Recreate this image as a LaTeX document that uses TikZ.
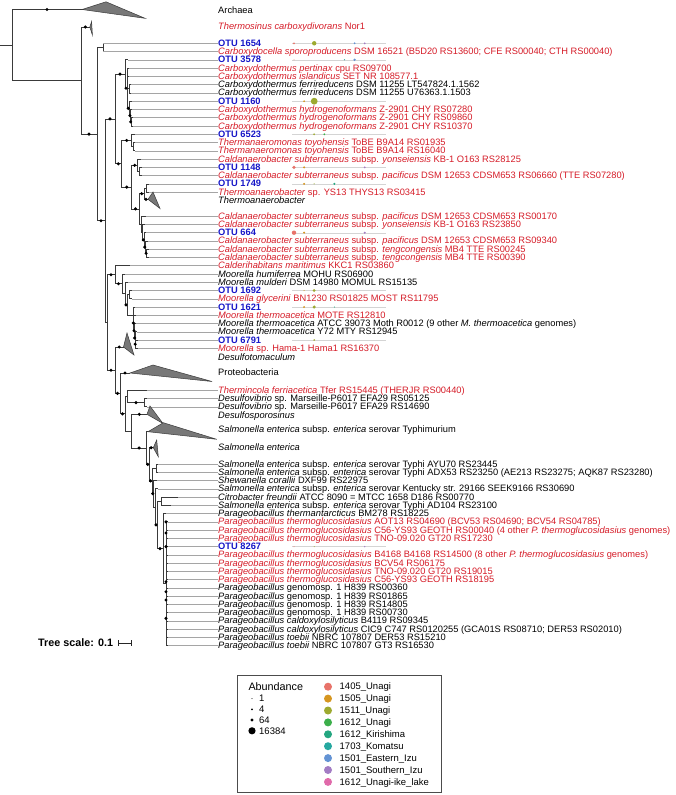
\documentclass[tikz,border=0pt]{standalone}
\usepackage{fontspec}
\setmainfont{Liberation Sans}
\usetikzlibrary{calc}
\definecolor{txtred}{RGB}{214,28,40}
\definecolor{otublue}{RGB}{22,22,200}
\definecolor{edgec}{RGB}{58,58,58}
\definecolor{leafc}{RGB}{165,165,165}
\definecolor{trkc}{RGB}{212,212,212}
\definecolor{trif}{RGB}{120,120,120}
\definecolor{cA}{RGB}{232,115,106}
\definecolor{cB}{RGB}{214,150,32}
\definecolor{cC}{RGB}{157,170,48}
\definecolor{cD}{RGB}{60,175,75}
\definecolor{cE}{RGB}{36,166,128}
\definecolor{cF}{RGB}{38,168,160}
\definecolor{cG}{RGB}{99,147,212}
\definecolor{cH}{RGB}{163,124,196}
\definecolor{cI}{RGB}{224,106,170}
\newcommand{\lf}[3]{\draw[tree] (#1) |- ($(#1 |- #2.west)+(#3,0)$); \draw[leafline] ($(#1 |- #2.west)+(#3,0)$) -- (#2.west);}
\newcommand{\ie}[2]{\draw[tree] (#1) |- (#2);}
\newcommand{\sd}[2]{\fill[black] ($(#1 |- #2)!0.5!(#2)$) circle (1.7pt);}
\newcommand{\trk}[1]{\draw[trkline] ($(#1.west)+(74,0)$) -- ($(#1.west)+(168,0)$);}
\newcommand{\ab}[4]{\fill[#2] ($(#1.west)+(#3,0)$) circle (#4pt);}
\begin{document}
\begin{tikzpicture}[x=1pt,y=-1pt,
  tree/.style={draw=edgec, line width=0.7pt},
  leafline/.style={draw=leafc, line width=0.5pt},
  trkline/.style={draw=trkc, line width=0.4pt},
  tri/.style={fill=trif, draw=edgec, line width=0.5pt},
  lab/.style={anchor=west, inner sep=0pt, text height=6pt, text depth=0pt, font=\fontsize{9.3}{11}\selectfont},
  labk/.style={lab, text=black},
  labr/.style={lab, text=txtred},
  labo/.style={lab, text=otublue, font=\fontsize{9.3}{11}\selectfont\bfseries},
  leg/.style={anchor=west, inner sep=0pt, text height=6.5pt, text depth=0pt, font=\fontsize{9.5}{11}\selectfont}]
\useasboundingbox (0,0) rectangle (675,795);
\fill[white] (0,0) rectangle (675,795);

% ---------------- labels ----------------
\node[labk] (tArch) at (218,10.7) {Archaea};
\node[labr] (tThs) at (218,26.3) {\textit{Thermosinus carboxydivorans} Nor1};
\node[labo] (o1654) at (218,43.3) {OTU 1654};
\node[labr] (lCsp) at (218,51.57) {\textit{Carboxydocella sporoproducens} DSM 16521 (B5D20 RS13600; CFE RS00040; CTH RS00040)};
\node[labo] (o3578) at (218,59.84) {OTU 3578};
\node[labr] (lCpe) at (218,68.11) {\textit{Carboxydothermus pertinax} cpu RS09700};
\node[labr] (lCis) at (218,76.38) {\textit{Carboxydothermus islandicus} SET NR 108577.1};
\node[labk] (lCf1) at (218,84.65) {\textit{Carboxydothermus ferrireducens} DSM 11255 LT547824.1.1562};
\node[labk] (lCf2) at (218,92.92) {\textit{Carboxydothermus ferrireducens} DSM 11255 U76363.1.1503};
\node[labo] (o1160) at (218,101.19) {OTU 1160};
\node[labr] (lCh1) at (218,109.46) {\textit{Carboxydothermus hydrogenoformans} Z-2901 CHY RS07280};
\node[labr] (lCh2) at (218,117.73) {\textit{Carboxydothermus hydrogenoformans} Z-2901 CHY RS09860};
\node[labr] (lCh3) at (218,126.0) {\textit{Carboxydothermus hydrogenoformans} Z-2901 CHY RS10370};
\node[labo] (o6523) at (218,134.27) {OTU 6523};
\node[labr] (lTt1) at (218,142.54) {\textit{Thermanaeromonas toyohensis} ToBE B9A14 RS01935};
\node[labr] (lTt2) at (218,150.81) {\textit{Thermanaeromonas toyohensis} ToBE B9A14 RS16040};
\node[labr] (lCy1) at (218,159.08) {\textit{Caldanaerobacter subterraneus} subsp. \textit{yonseiensis} KB-1 O163 RS28125};
\node[labo] (o1148) at (218,167.35) {OTU 1148};
\node[labr] (lCp1) at (218,175.62) {\textit{Caldanaerobacter subterraneus} subsp. \textit{pacificus} DSM 12653 CDSM653 RS06660 (TTE RS07280)};
\node[labo] (o1749) at (218,183.89) {OTU 1749};
\node[labr] (lTsp) at (218,192.16) {\textit{Thermoanaerobacter} sp. YS13 THYS13 RS03415};
\node[labk] (tTab) at (218,200.9) {\textit{Thermoanaerobacter}};
\node[labr] (lCp2) at (218,216.2) {\textit{Caldanaerobacter subterraneus} subsp. \textit{pacificus} DSM 12653 CDSM653 RS00170};
\node[labr] (lCy2) at (218,224.45) {\textit{Caldanaerobacter subterraneus} subsp. \textit{yonseiensis} KB-1 O163 RS23850};
\node[labo] (o664) at (218,232.7) {OTU 664};
\node[labr] (lCp3) at (218,240.96) {\textit{Caldanaerobacter subterraneus} subsp. \textit{pacificus} DSM 12653 CDSM653 RS09340};
\node[labr] (lCt1) at (218,249.22) {\textit{Caldanaerobacter subterraneus} subsp. \textit{tengcongensis} MB4 TTE RS00245};
\node[labr] (lCt2) at (218,257.48) {\textit{Caldanaerobacter subterraneus} subsp. \textit{tengcongensis} MB4 TTE RS00390};
\node[labr] (lCal) at (218,265.74) {\textit{Calderihabitans maritimus} KKC1 RS03860};
\node[labk] (lMhu) at (218,274.0) {\textit{Moorella humiferrea} MOHU RS06900};
\node[labk] (lMmu) at (218,282.26) {\textit{Moorella mulderi} DSM 14980 MOMUL RS15135};
\node[labo] (o1692) at (218,290.52) {OTU 1692};
\node[labr] (lMgl) at (218,298.78) {\textit{Moorella glycerini} BN1230 RS01825 MOST RS11795};
\node[labo] (o1621) at (218,307.04) {OTU 1621};
\node[labr] (lMt1) at (218,315.3) {\textit{Moorella thermoacetica} MOTE RS12810};
\node[labk] (lMt2) at (218,323.56) {\textit{Moorella thermoacetica} ATCC 39073 Moth R0012 (9 other \textit{M. thermoacetica} genomes)};
\node[labk] (lMt3) at (218,331.82) {\textit{Moorella thermoacetica} Y72 MTY RS12945};
\node[labo] (o6791) at (218,340.08) {OTU 6791};
\node[labr] (lMha) at (218,348.34) {\textit{Moorella} sp. Hama-1 Hama1 RS16370};
\node[labk] (tDtm) at (218,357.3) {\textit{Desulfotomaculum}};
\node[labk] (tPro) at (218,372.7) {Proteobacteria};
\node[labr] (lThf) at (218,390.3) {\textit{Thermincola ferriacetica} Tfer RS15445 (THERJR RS00440)};
\node[labk] (lDv1) at (218,398.5) {\textit{Desulfovibrio} sp. Marseille-P6017 EFA29 RS05125};
\node[labk] (lDv2) at (218,406.8) {\textit{Desulfovibrio} sp. Marseille-P6017 EFA29 RS14690};
\node[labk] (tDsp) at (218,415.0) {\textit{Desulfosporosinus}};
\node[labk] (tSty) at (218,429.3) {\textit{Salmonella enterica} subsp. \textit{enterica} serovar Typhimurium};
\node[labk] (tSen) at (218,447.7) {\textit{Salmonella enterica}};
\node[labk] (lS1) at (218,464.0) {\textit{Salmonella enterica} subsp. \textit{enterica} serovar Typhi AYU70 RS23445};
\node[labk] (lS2) at (218,472.26) {\textit{Salmonella enterica} subsp. \textit{enterica} serovar Typhi ADX53 RS23250 (AE213 RS23275; AQK87 RS23280)};
\node[labk] (lShw) at (218,480.52) {\textit{Shewanella corallii} DXF99 RS22975};
\node[labk] (lS3) at (218,488.78) {\textit{Salmonella enterica} subsp. \textit{enterica} serovar Kentucky str. 29166 SEEK9166 RS30690};
\node[labk] (lCit) at (218,497.04) {\textit{Citrobacter freundii} ATCC 8090 = MTCC 1658 D186 RS00770};
\node[labk] (lS4) at (218,505.3) {\textit{Salmonella enterica} subsp. \textit{enterica} serovar Typhi AD104 RS23100};
\node[labk] (lPth) at (218,513.56) {\textit{Parageobacillus thermantarcticus} BM278 RS18225};
\node[labr] (lPg1) at (218,521.82) {\textit{Parageobacillus thermoglucosidasius} AOT13 RS04690 (BCV53 RS04690; BCV54 RS04785)};
\node[labr] (lPg2) at (218,530.08) {\textit{Parageobacillus thermoglucosidasius} C56-YS93 GEOTH RS00040 (4 other \textit{P. thermoglucosidasius} genomes)};
\node[labr] (lPg3) at (218,538.34) {\textit{Parageobacillus thermoglucosidasius} TNO-09.020 GT20 RS17230};
\node[labo] (o8267) at (218,546.6) {OTU 8267};
\node[labr] (lPg4) at (218,554.86) {\textit{Parageobacillus thermoglucosidasius} B4168 B4168 RS14500 (8 other \textit{P. thermoglucosidasius} genomes)};
\node[labr] (lPg5) at (218,563.12) {\textit{Parageobacillus thermoglucosidasius} BCV54 RS06175};
\node[labr] (lPg6) at (218,571.38) {\textit{Parageobacillus thermoglucosidasius} TNO-09.020 GT20 RS19015};
\node[labr] (lPg7) at (218,579.64) {\textit{Parageobacillus thermoglucosidasius} C56-YS93 GEOTH RS18195};
\node[labk] (lPn1) at (218,587.9) {\textit{Parageobacillus} genomosp. 1 H839 RS00360};
\node[labk] (lPn2) at (218,596.16) {\textit{Parageobacillus} genomosp. 1 H839 RS01865};
\node[labk] (lPn3) at (218,604.42) {\textit{Parageobacillus} genomosp. 1 H839 RS14805};
\node[labk] (lPn4) at (218,612.68) {\textit{Parageobacillus} genomosp. 1 H839 RS00730};
\node[labk] (lPc1) at (218,620.94) {\textit{Parageobacillus caldoxylosilyticus} B4119 RS09345};
\node[labk] (lPc2) at (218,629.2) {\textit{Parageobacillus caldoxylosilyticus} CIC9 C747 RS0120255 (GCA01S RS08710; DER53 RS02010)};
\node[labk] (lPt1) at (218,637.46) {\textit{Parageobacillus toebii} NBRC 107807 DER53 RS15210};
\node[labk] (lPt2) at (218,645.72) {\textit{Parageobacillus toebii} NBRC 107807 GT3 RS16530};

% ---------------- internal nodes ----------------
\coordinate (rs) at (0,45.15);
\coordinate (root) at (12,45.15);
\coordinate (arA) at (82,9.5);   \coordinate (arT) at (106,1.8);  \coordinate (arB) at (145,18.3);
\coordinate (A) at (81,80.3);
\coordinate (thA) at (89.8,27);  \coordinate (thT) at (91.6,21.5); \coordinate (thB) at (92.4,35);
\coordinate (B) at (97,134.05);
\coordinate (C) at (103,47.4);
\coordinate (D) at (105,220.7);
\coordinate (E) at (115,118.93);
\coordinate (F) at (125,74.06);
\coordinate (F2) at (127,88.27);
\coordinate (Fp) at (129,88.79);
\coordinate (F4) at (129.5,108.43);
\coordinate (F5) at (130.3,115.67);
\coordinate (F6) at (131,121.87);
\coordinate (G) at (121.7,163.8);
\coordinate (H) at (131.7,140.48);
\coordinate (H2) at (133,146.68);
\coordinate (I) at (131.7,187.11);
\coordinate (J) at (137.7,165.29);
\coordinate (J2) at (139.5,171.49);
\coordinate (K) at (139.3,208.93);
\coordinate (T) at (144,193.67);
\coordinate (T1) at (146.7,188.03);
\coordinate (taA) at (148,199.3); \coordinate (taT) at (153,192); \coordinate (taB) at (160,208.5);
\coordinate (Cc) at (141.7,224.2);
\coordinate (Cc2) at (142.7,232.19);
\coordinate (Cc3) at (144,239.93);
\coordinate (Cc4) at (145.5,247.16);
\coordinate (Cc5) at (146.7,253.35);
\coordinate (L) at (107,322.5);
\coordinate (M) at (115,274.76);
\coordinate (M2) at (122,283.78);
\coordinate (M3) at (125,293.55);
\coordinate (M4) at (127,304.85);
\coordinate (M5) at (129.5,294.65);
\coordinate (M6) at (133,315.04);
\coordinate (M7) at (133.7,323.04);
\coordinate (M8) at (134.3,330.78);
\coordinate (M9) at (134.9,338.0);
\coordinate (M10) at (135.5,344.21);
\coordinate (N) at (115,370.2);
\coordinate (dtA) at (123.5,347); \coordinate (dtT) at (127,333); \coordinate (dtB) at (134,355);
\coordinate (N2) at (120,393.4);
\coordinate (prA) at (130,373);   \coordinate (prT) at (153,365); \coordinate (prB) at (212,381.5);
\coordinate (N3) at (125,413.8);
\coordinate (P) at (127.7,396.48);
\coordinate (Pd) at (144.3,402.65);
\coordinate (Q) at (131.7,431.15);
\coordinate (dsA) at (147,414.3); \coordinate (dsT) at (150,406); \coordinate (dsB) at (163,423.5);
\coordinate (R) at (146.5,448);
\coordinate (stA) at (148,431.7); \coordinate (stT) at (163.3,422.7); \coordinate (stB) at (216.7,439.3);
\coordinate (R2) at (149,464.3);
\coordinate (seA) at (153.3,447.7); \coordinate (seT) at (156.7,440); \coordinate (seB) at (158.3,456.7);
\coordinate (R3) at (152,480.91);
\coordinate (Ty) at (156,468.13);
\coordinate (R4) at (153.5,493.69);
\coordinate (R5) at (155,506.85);
\coordinate (R6) at (157,524.92);
\coordinate (Ci) at (161,501.17);
\coordinate (PG) at (163,548.67);
\coordinate (PG2) at (166,583.77);

% ---------------- leaf edges ----------------
\lf{C}{o1654}{0} \lf{C}{lCsp}{0}
\lf{F}{o3578}{3} \lf{F2}{lCpe}{2} \lf{F2}{lCis}{2} \lf{Fp}{lCf1}{2} \lf{Fp}{lCf2}{2}
\lf{F4}{o1160}{2} \lf{F5}{lCh1}{2} \lf{F6}{lCh2}{2} \lf{F6}{lCh3}{2}
\lf{H}{o6523}{3} \lf{H2}{lTt1}{2} \lf{H2}{lTt2}{2}
\lf{J}{lCy1}{3} \lf{J2}{o1148}{2} \lf{J2}{lCp1}{2}
\lf{T1}{o1749}{2} \lf{T1}{lTsp}{2}
\lf{Cc}{lCp2}{4} \lf{Cc2}{lCy2}{2} \lf{Cc3}{o664}{2} \lf{Cc4}{lCp3}{2} \lf{Cc5}{lCt1}{2} \lf{Cc5}{lCt2}{2}
\lf{M}{lCal}{15} \lf{M2}{lMhu}{3} \lf{M3}{lMmu}{3} \lf{M5}{o1692}{2} \lf{M5}{lMgl}{2}
\lf{M6}{o1621}{2} \lf{M7}{lMt1}{2} \lf{M8}{lMt2}{2} \lf{M9}{lMt3}{2} \lf{M10}{o6791}{2} \lf{M10}{lMha}{2}
\lf{P}{lThf}{19} \lf{Pd}{lDv1}{3} \lf{Pd}{lDv2}{3}
\lf{Ty}{lS1}{2} \lf{Ty}{lS2}{2} \lf{R4}{lShw}{3} \lf{R5}{lS3}{3} \lf{Ci}{lCit}{17} \lf{Ci}{lS4}{10}
\lf{PG}{lPth}{3}
\lf{PG2}{lPg1}{2} \lf{PG2}{lPg2}{2} \lf{PG2}{lPg3}{2} \lf{PG2}{o8267}{2} \lf{PG2}{lPg4}{2}
\lf{PG2}{lPg5}{2} \lf{PG2}{lPg6}{2} \lf{PG2}{lPg7}{2} \lf{PG2}{lPn1}{2} \lf{PG2}{lPn2}{2}
\lf{PG2}{lPn3}{2} \lf{PG2}{lPn4}{2} \lf{PG2}{lPc1}{2} \lf{PG2}{lPc2}{2} \lf{PG2}{lPt1}{2} \lf{PG2}{lPt2}{2}

% ---------------- internal edges ----------------
\draw[tree] (rs) -- (root);
\ie{root}{arA} \ie{root}{A} \ie{A}{thA} \ie{A}{B}
\ie{B}{C} \ie{B}{D} \ie{D}{E} \ie{D}{L}
\ie{E}{F} \ie{E}{G} \ie{F}{F2} \ie{F2}{Fp} \ie{F2}{F4} \ie{F4}{F5} \ie{F5}{F6}
\ie{G}{H} \ie{G}{I} \ie{H}{H2} \ie{I}{J} \ie{I}{K} \ie{J}{J2}
\ie{K}{T} \ie{K}{Cc} \ie{T}{T1} \ie{T}{taA}
\ie{Cc}{Cc2} \ie{Cc2}{Cc3} \ie{Cc3}{Cc4} \ie{Cc4}{Cc5}
\ie{L}{M} \ie{L}{N} \ie{M}{M2} \ie{M2}{M3} \ie{M3}{M4} \ie{M4}{M5} \ie{M4}{M6}
\ie{M6}{M7} \ie{M7}{M8} \ie{M8}{M9} \ie{M9}{M10}
\ie{N}{dtA} \ie{N}{N2} \ie{N2}{prA} \ie{N2}{N3} \ie{N3}{P} \ie{N3}{Q} \ie{P}{Pd}
\ie{Q}{dsA} \ie{Q}{R} \ie{R}{stA} \ie{R}{R2} \ie{R2}{seA} \ie{R2}{R3}
\ie{R3}{Ty} \ie{R3}{R4} \ie{R4}{R5} \ie{R5}{R6} \ie{R6}{Ci} \ie{R6}{PG} \ie{PG}{PG2}

% ---------------- collapsed clades ----------------
\filldraw[tri] (arA) -- (arT) -- (arB) -- cycle;
\filldraw[tri] (thA) -- (thT) -- (thB) -- cycle;
\filldraw[tri] (taA) -- (taT) -- (taB) -- cycle;
\filldraw[tri] (dtA) -- (dtT) -- (dtB) -- cycle;
\filldraw[tri] (prA) -- (prT) -- (prB) -- cycle;
\filldraw[tri] (dsA) -- (dsT) -- (dsB) -- cycle;
\filldraw[tri] (stA) -- (stT) -- (stB) -- cycle;
\filldraw[tri] (seA) -- (seT) -- (seB) -- cycle;

% ---------------- support dots ----------------
\sd{root}{arA} \sd{A}{thA} \sd{A}{B} \sd{B}{D} \sd{D}{E} \sd{E}{F} \sd{F}{F2}
\sd{F2}{F4} \sd{F4}{F5} \sd{F5}{F6}
\sd{E}{G} \sd{G}{H} \sd{G}{I} \sd{I}{J} \sd{I}{K} \sd{K}{T} \sd{T}{taA}
\sd{Cc2}{Cc3} \sd{Cc3}{Cc4} \sd{Cc4}{Cc5}
\sd{L}{M} \sd{M}{M2} \sd{M3}{M4} \sd{M6}{M7} \sd{M7}{M8} \sd{M8}{M9} \sd{M9}{M10}
\sd{L}{N} \sd{N}{dtA} \sd{N}{N2} \sd{N2}{prA} \sd{N2}{N3} \sd{P}{Pd} \sd{Q}{dsA}
\sd{Q}{R} \sd{R2}{seA} \sd{R}{R2} \sd{R2}{R3} \sd{R3}{R4} \sd{R5}{R6} \sd{R6}{PG}
\foreach \yy in {521.82,533,546.6,581.7,591.7,600,618.3}
  \fill[black] (166,\yy) circle (1.7pt);

% ---------------- abundance tracks ----------------
\trk{o1654} \ab{o1654}{cA}{76}{1.0} \ab{o1654}{cC}{96.2}{2.2} \ab{o1654}{cG}{136.6}{1.0} \ab{o1654}{cH}{146.7}{1.0}
\trk{o3578} \ab{o3578}{cA}{76}{0.5} \ab{o3578}{cF}{126.5}{0.6} \ab{o3578}{cG}{136.6}{1.3}
\trk{o1160} \ab{o1160}{cB}{86.1}{1.0} \ab{o1160}{cC}{96.2}{3.4}
\trk{o6523} \ab{o6523}{cC}{96.2}{1.0} \ab{o6523}{cD}{106.3}{1.0}
\trk{o1148} \ab{o1148}{cA}{76}{1.8} \ab{o1148}{cB}{86.1}{1.2} \ab{o1148}{cH}{146.7}{1.0}
\trk{o1749} \ab{o1749}{cB}{86.1}{1.1} \ab{o1749}{cC}{96.2}{0.6} \ab{o1749}{cE}{116.4}{1.2}
\trk{o664} \ab{o664}{cA}{76}{2.2} \ab{o664}{cB}{86.1}{1.1} \ab{o664}{cH}{146.7}{1.1}
\trk{o1692} \ab{o1692}{cB}{86.1}{0.6} \ab{o1692}{cC}{96.2}{1.5}
\trk{o1621} \ab{o1621}{cB}{86.1}{1.1} \ab{o1621}{cC}{96.2}{1.7} \ab{o1621}{cE}{116.4}{0.6}
\trk{o6791} \ab{o6791}{cC}{96.2}{0.9}
\trk{o8267} \ab{o8267}{cA}{76}{0.5} \ab{o8267}{cC}{96.2}{0.5} \ab{o8267}{cH}{146.7}{0.7}

% ---------------- tree scale ----------------
\node[anchor=west, inner sep=0pt, text height=7pt, text depth=0pt, font=\fontsize{10.8}{12}\selectfont\bfseries] (tscale) at (38,643) {Tree scale: 0.1};
\coordinate (sb1) at (118.3,643);
\coordinate (sb2) at (131.7,643);
\draw[line width=0.8pt, black!85] (sb1) -- (sb2);
\draw[line width=0.8pt, black!85] ($(sb1)+(0,-3)$) -- ($(sb1)+(0,3)$);
\draw[line width=0.8pt, black!85] ($(sb2)+(0,-3)$) -- ($(sb2)+(0,3)$);

% ---------------- legend ----------------
\node[draw=black!70, line width=0.6pt, anchor=north west, minimum width=203.2pt, minimum height=117pt, inner sep=0pt] (legend) at (237.3,675) {};
\node[anchor=west, inner sep=0pt, text height=7.5pt, text depth=0pt, font=\fontsize{10.8}{12}\selectfont] (abt) at (248.3,686.5) {Abundance};
\node[leg] (a1) at (259,698.6) {1};
\node[leg] (a4) at (259,709.3) {4};
\node[leg] (a64) at (259,720) {64};
\node[leg] (a16) at (259,730.8) {16384};
\fill[black] ($(a1.west)+(-7,0)$) circle (0.6pt);
\fill[black] ($(a4.west)+(-7,0)$) circle (1.0pt);
\fill[black] ($(a64.west)+(-7,0)$) circle (1.7pt);
\fill[black] ($(a16.west)+(-7,0)$) circle (3.6pt);
\foreach \nm/\cl [count=\i from 0] in {1405\_Unagi/cA,1505\_Unagi/cB,1511\_Unagi/cC,1612\_Unagi/cD,1612\_Kirishima/cE,1703\_Komatsu/cF,1501\_Eastern\_Izu/cG,1501\_Southern\_Izu/cH,1612\_Unagi-ike\_lake/cI}{
  \node[leg] (s\i) at (339.5,686.7+11.9*\i) {\nm};
  \fill[\cl] ($(s\i.west)+(-11.5,0)$) circle (4pt);
}
\end{tikzpicture}
\end{document}
